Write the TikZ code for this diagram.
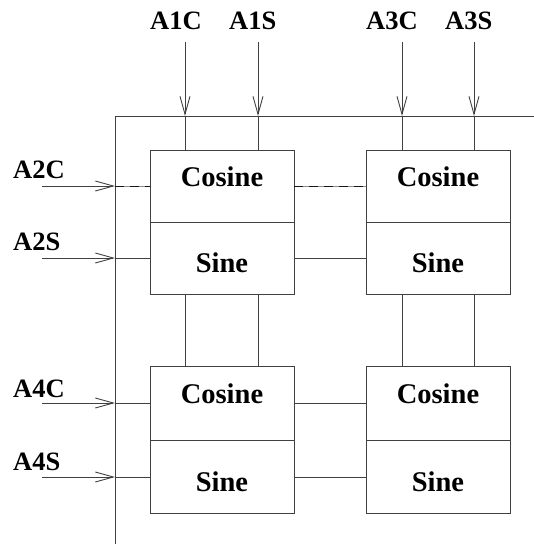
\documentclass[tikz,border=0pt]{standalone}
\usepackage{fontspec}
\setmainfont{Liberation Serif}
\usetikzlibrary{arrows.meta}
\begin{document}
\begin{tikzpicture}[x=1pt,y=-1pt,
  ln/.style={draw=black!75,line width=0.9pt},
  arr/.style={ln,-{Straight Barb[length=18pt,width=10pt,line width=0.9pt]}},
  dsh/.style={draw=black!90,line width=1pt,dash pattern=on 9pt off 6pt},
  lbl/.style={font=\fontsize{26.5}{30}\bfseries\selectfont,inner sep=0pt,anchor=base west},
  cosbox/.style={ln,minimum width=144pt,inner sep=0pt,outer sep=0pt,
     font=\fontsize{28.5}{32}\bfseries\selectfont,text height=18pt,text depth=18pt},
  sinbox/.style={ln,minimum width=144pt,inner sep=0pt,outer sep=0pt,
     font=\fontsize{28.5}{32}\bfseries\selectfont,text height=32pt,text depth=4pt}]
\useasboundingbox (0,0) rectangle (534,544);
% frame
\coordinate (fc) at (115,116);
\coordinate (fr) at (534,116);
\coordinate (fb) at (115,544);
\draw[ln] (fr) -- (fc) -- (fb);
% boxes
\node[cosbox,minimum height=72pt] (c11) at (222,186) {Cosine};
\node[sinbox,minimum height=72pt] (s11) at (222,258) {Sine};
\node[cosbox,minimum height=72pt] (c12) at (438,186) {Cosine};
\node[sinbox,minimum height=72pt] (s12) at (438,258) {Sine};
\node[cosbox,minimum height=74pt] (c21) at (222,403) {Cosine};
\node[sinbox,minimum height=73pt] (s21) at (222,477) {Sine};
\node[cosbox,minimum height=74pt] (c22) at (438,403) {Cosine};
\node[sinbox,minimum height=73pt] (s22) at (438,477) {Sine};
% top inputs
\node[lbl] (l1c) at (150,29) {A1C};
\node[lbl] (l1s) at (229,29) {A1S};
\node[lbl] (l3c) at (366,29) {A3C};
\node[lbl] (l3s) at (445,29) {A3S};
\coordinate (t1c) at (185,42);
\coordinate (t1s) at (258,42);
\coordinate (t3c) at (402,42);
\coordinate (t3s) at (474,42);
\foreach \t in {t1c,t1s,t3c,t3s}{
  \draw[arr] (\t) -- (\t|-fc);
}
\draw[ln] (t1c|-fc) -- (t1c|-c11.north);
\draw[ln] (t1s|-fc) -- (t1s|-c11.north);
\draw[ln] (t3c|-fc) -- (t3c|-c12.north);
\draw[ln] (t3s|-fc) -- (t3s|-c12.north);
% vertical connectors between rows
\draw[ln] (t1c|-s11.south) -- (t1c|-c21.north);
\draw[ln] (t1s|-s11.south) -- (t1s|-c21.north);
\draw[ln] (t3c|-s12.south) -- (t3c|-c22.north);
\draw[ln] (t3s|-s12.south) -- (t3s|-c22.north);
% left inputs
\node[lbl] (l2c) at (13,178) {A2C};
\node[lbl] (l2s) at (13,250) {A2S};
\node[lbl] (l4c) at (13,397) {A4C};
\node[lbl] (l4s) at (13,470) {A4S};
\coordinate (i2c) at (42,186);
\coordinate (i2s) at (42,258);
\coordinate (i4c) at (42,403);
\coordinate (i4s) at (42,477);
\draw[arr] (i2c) -- (fc|-i2c);
\draw[arr] (i2s) -- (fc|-i2s);
\draw[arr] (i4c) -- (fc|-i4c);
\draw[arr] (i4s) -- (fc|-i4s);
% horizontal connectors
\draw[ln,draw=black!45] (fc|-c11) -- (c11.west);
\draw[dsh] (fc|-c11) -- (c11.west);
\draw[ln,draw=black!45] (c11.east) -- (c12.west);
\draw[dsh] (c11.east) -- (c12.west);
\draw[ln] (fc|-s11) -- (s11.west);
\draw[ln] (s11.east) -- (s12.west);
\draw[ln] (fc|-c21) -- (c21.west);
\draw[ln] (c21.east) -- (c22.west);
\draw[ln] (fc|-s21) -- (s21.west);
\draw[ln] (s21.east) -- (s22.west);
\end{tikzpicture}
\end{document}
